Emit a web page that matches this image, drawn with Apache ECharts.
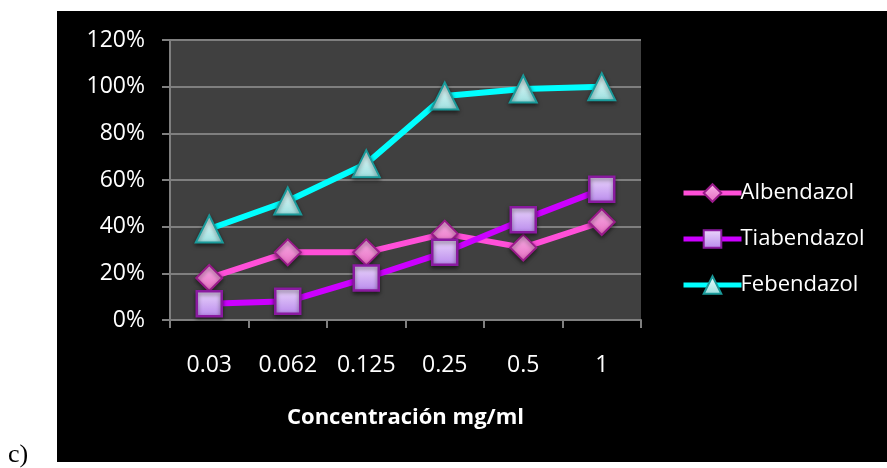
<!DOCTYPE html>
<html>
<head>
<meta charset="utf-8">
<script src="https://cdn.jsdelivr.net/npm/echarts@6/dist/echarts.min.js"></script>
<style>html,body{margin:0;padding:0;background:#fff;}#c{width:887px;height:468px;}</style>
</head>
<body>
<div id="c"></div>
<script>
const categories = ['0.03', '0.062', '0.125', '0.25', '0.5', '1'];
const albendazol = [18, 29, 29, 37, 31, 42];
const tiabendazol = [7, 8, 18, 29, 43, 56];
const febendazol = [39, 51, 67, 96, 99, 100];
const seriesNames = ['Albendazol', 'Tiabendazol', 'Febendazol'];
const xAxisTitle = 'Concentración mg/ml';
const panelLabel = 'c)';

const FONT = '"Open Sans", "Noto Sans", sans-serif';
const chart = echarts.init(document.getElementById('c'), null, {renderer: 'canvas'});

function grad(c1, c2) {
  return new echarts.graphic.LinearGradient(0, 0, 0, 1, [
    {offset: 0, color: c1}, {offset: 1, color: c2}
  ]);
}

const option = {
  backgroundColor: '#ffffff',
  animation: false,
  graphic: [
    {type: 'rect', z: -10, silent: true,
     shape: {x: 57, y: 11, width: 830, height: 451},
     style: {fill: '#000000'}},
    {type: 'text', left: 8, top: 442, silent: true,
     style: {text: panelLabel, fill: '#000000', font: '26px "Liberation Serif", "DejaVu Serif", serif'}}
  ],
  grid: {
    left: 170, right: 246, top: 40, bottom: 148,
    show: true, backgroundColor: '#404040', borderWidth: 0
  },
  legend: {
    orient: 'vertical',
    left: 676, top: 177,
    itemWidth: 58, itemHeight: 22, itemGap: 24,
    lineStyle: {width: 5},
    textStyle: {color: '#ffffff', fontFamily: FONT, fontSize: 22, padding: [0, 0, 0, -6]},
    data: seriesNames
  },
  xAxis: {
    type: 'category',
    data: categories,
    boundaryGap: true,
    axisLine: {show: true, lineStyle: {color: '#7f7f7f', width: 2}},
    axisTick: {show: true, length: 8, lineStyle: {color: '#7f7f7f', width: 2}},
    axisLabel: {color: '#ffffff', fontFamily: FONT, fontSize: 23, margin: 34},
    name: xAxisTitle,
    nameLocation: 'middle',
    nameGap: 87,
    nameTextStyle: {color: '#ffffff', fontFamily: FONT, fontSize: 22, fontWeight: 'bold'}
  },
  yAxis: {
    type: 'value',
    min: 0, max: 120, interval: 20,
    axisLine: {show: true, lineStyle: {color: '#7f7f7f', width: 2}},
    axisTick: {show: true, length: 8, lineStyle: {color: '#7f7f7f', width: 2}},
    axisLabel: {color: '#ffffff', fontFamily: FONT, fontSize: 23, margin: 25, formatter: '{value}%'},
    splitLine: {show: true, lineStyle: {color: '#7f7f7f', width: 2}}
  },
  series: [
    {
      name: seriesNames[0], type: 'line', data: albendazol,
      symbol: 'diamond', symbolSize: 26,
      lineStyle: {color: '#ff4fd8', width: 6},
      itemStyle: {color: grad('#f9b4e8', '#e66ac0'), borderColor: '#9a1a8a', borderWidth: 2,
                  shadowColor: 'rgba(0,0,0,0.5)', shadowBlur: 4, shadowOffsetY: 2},
      z: 3
    },
    {
      name: seriesNames[1], type: 'line', data: tiabendazol,
      symbol: 'rect', symbolSize: 25,
      lineStyle: {color: '#cc00ff', width: 6},
      itemStyle: {color: grad('#ecd8fc', '#b888ec'), borderColor: '#8a1aa0', borderWidth: 2.5,
                  shadowColor: 'rgba(0,0,0,0.5)', shadowBlur: 4, shadowOffsetY: 2},
      z: 4
    },
    {
      name: seriesNames[2], type: 'line', data: febendazol,
      symbol: 'triangle', symbolSize: 27,
      lineStyle: {color: '#00ffff', width: 6},
      itemStyle: {color: grad('#f0ffff', '#9adede'), borderColor: '#1a9a9a', borderWidth: 2,
                  shadowColor: 'rgba(0,0,0,0.5)', shadowBlur: 4, shadowOffsetY: 2},
      z: 5
    }
  ]
};
chart.setOption(option);
</script>
</body>
</html>
